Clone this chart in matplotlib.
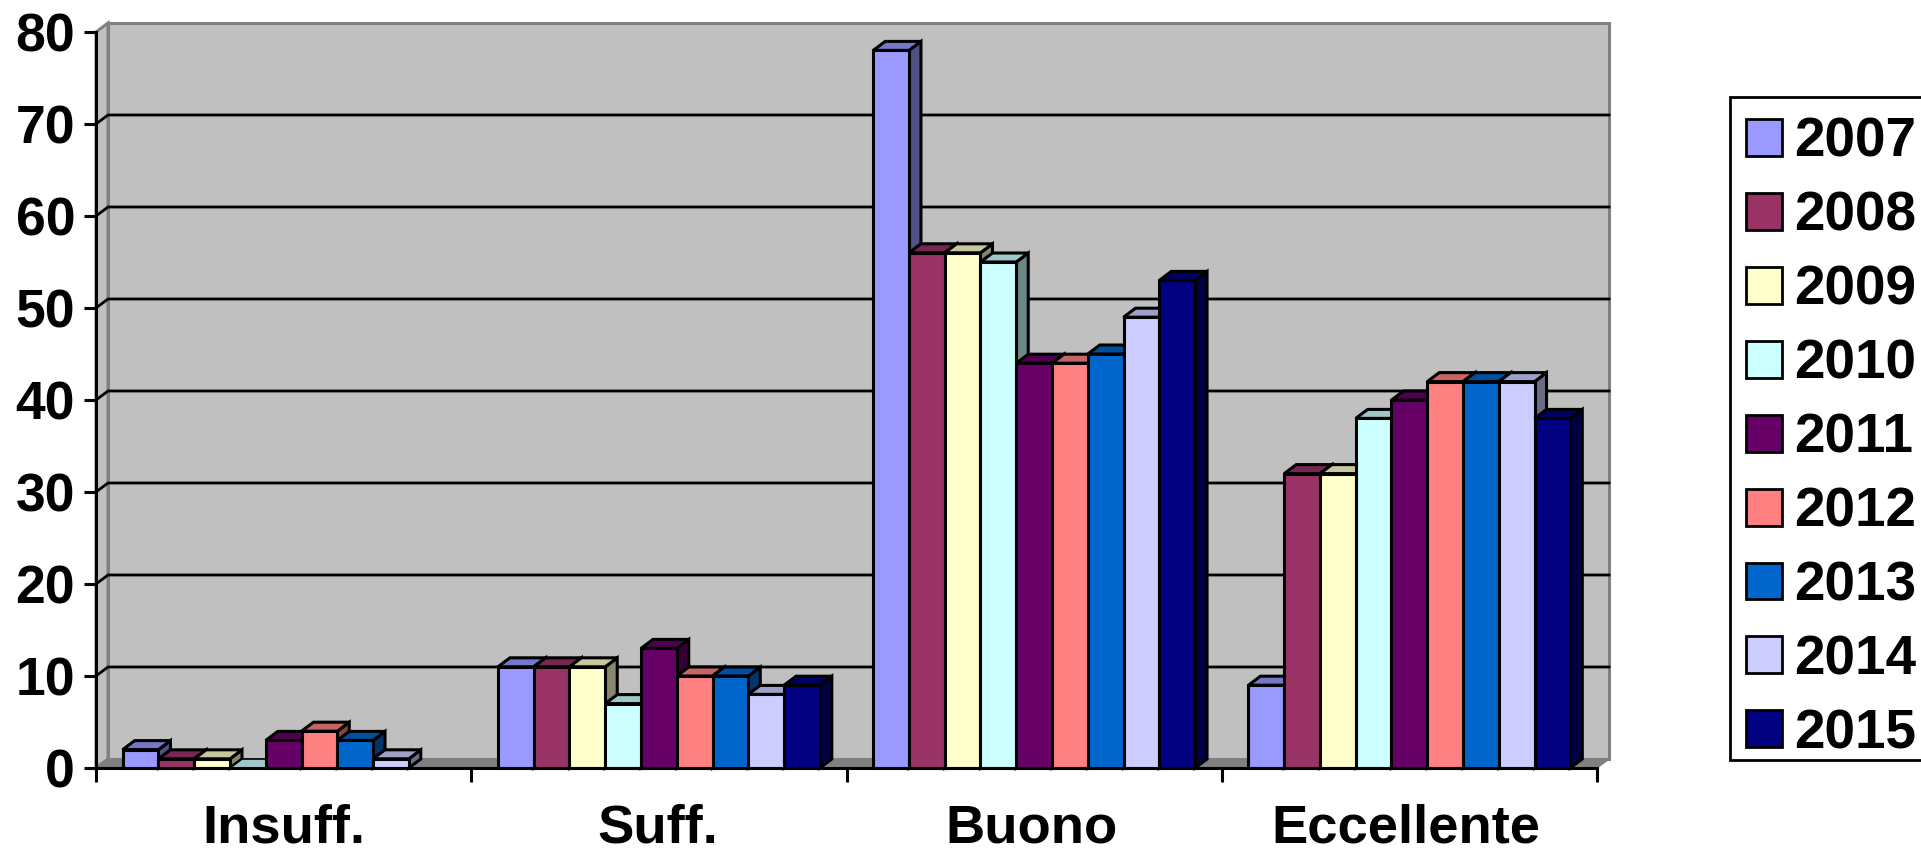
import numpy as np
import matplotlib
matplotlib.use("Agg")
import matplotlib.pyplot as plt
from matplotlib.patches import Polygon, Patch, Rectangle
from matplotlib.colors import to_rgb

plt.rcParams['font.family'] = ['Liberation Sans', 'DejaVu Sans']
plt.rcParams['font.weight'] = 'bold'

categories = ["Insuff.", "Suff.", "Buono", "Eccellente"]
years = ["2007", "2008", "2009", "2010", "2011", "2012", "2013", "2014", "2015"]
v2007 = [2, 11, 78, 9]
v2008 = [1, 11, 56, 32]
v2009 = [1, 11, 56, 32]
v2010 = [0, 7, 55, 38]
v2011 = [3, 13, 44, 40]
v2012 = [4, 10, 44, 42]
v2013 = [3, 10, 45, 42]
v2014 = [1, 8, 49, 42]
v2015 = [np.nan, 9, 53, 38]
series = [v2007, v2008, v2009, v2010, v2011, v2012, v2013, v2014, v2015]
colors = ["#9999FF", "#993366", "#FFFFCC", "#CCFFFF", "#660066",
          "#FF8080", "#0066CC", "#CCCCFF", "#000080"]

W, H = 1921, 848
L, R, T, B = 96, 1597, 32, 768
fig = plt.figure(figsize=(W / 100, H / 100), dpi=100, facecolor="white")
ax = fig.add_axes([L / W, 1 - B / H, (R - L) / W, (B - T) / H])
ax.set_xlim(0, 4)
ax.set_ylim(0, 80)
ax.set_facecolor("none")
for s in ("top", "right"):
    ax.spines[s].set_visible(False)
for s in ("left", "bottom"):
    ax.spines[s].set_linewidth(2.2)
    ax.spines[s].set_zorder(50)

# depth of the pseudo-3D projection, in data units
DX = 12 / ((R - L) / 4)
DY = 9 / ((B - T) / 80)
GRAY = "#808080"
WALL = "#C0C0C0"

# walls and floor
ax.add_patch(Polygon([(DX, DY), (4 + DX, DY), (4 + DX, 80 + DY), (DX, 80 + DY)],
                     fc=WALL, ec=GRAY, lw=2.2, zorder=1, clip_on=False))
ax.add_patch(Polygon([(0, 0), (DX, DY), (DX, 80 + DY), (0, 80)],
                     fc=WALL, ec=GRAY, lw=2.2, zorder=1, clip_on=False))
ax.add_patch(Polygon([(0, 0), (4, 0), (4 + DX, DY), (DX, DY)],
                     fc=GRAY, ec=GRAY, lw=1, zorder=1, clip_on=False))
yticks = np.arange(0, 90, 10)
for y in yticks[1:-1]:
    ax.plot([0, DX, 4 + DX], [y, y + DY, y + DY], color="black", lw=2.0,
            zorder=2, clip_on=False, solid_joinstyle="miter")


def shade(c, f):
    return tuple(np.array(to_rgb(c)) * f)


LW = 2.2
margin = 26.7 / ((R - L) / 4)
bw = (1 - 2 * margin) / len(series)
z = 3
for g in range(len(categories)):
    for i, (vals, c) in enumerate(zip(series, colors)):
        h = vals[g]
        if np.isnan(h):
            continue
        x0 = g + margin + i * bw
        if h == 0:
            ax.add_patch(Polygon([(x0, 0), (x0 + bw, 0), (x0 + bw + DX, DY), (x0 + DX, DY)],
                                 fc=shade(c, 0.78), ec="black", lw=1.2, zorder=z,
                                 clip_on=False, joinstyle="miter"))
            z += 1
            continue
        ax.add_patch(Polygon([(x0 + bw, 0), (x0 + bw + DX, DY), (x0 + bw + DX, h + DY), (x0 + bw, h)],
                             fc=shade(c, 0.53), ec="black", lw=LW, zorder=z,
                             clip_on=False, joinstyle="miter"))
        ax.add_patch(Polygon([(x0, h), (x0 + bw, h), (x0 + bw + DX, h + DY), (x0 + DX, h + DY)],
                             fc=shade(c, 0.78), ec="black", lw=LW, zorder=z,
                             clip_on=False, joinstyle="miter"))
        ax.bar(x0, h, width=bw, align="edge", color=c, edgecolor="black",
               linewidth=LW, zorder=z + 0.5, clip_on=False)
        z += 1

ax.set_yticks(yticks)
ax.set_yticklabels([str(y) for y in yticks], fontsize=38.5, fontweight="bold")
ax.tick_params(axis="y", length=9, width=2.2, pad=6)
ax.set_xticks(range(5))
ax.set_xticklabels([])
ax.set_xticks(np.arange(4) * 0.9967 + 0.5, minor=True)
ax.set_xticklabels(categories, minor=True, fontsize=39.2, fontweight="bold")
ax.tick_params(axis="x", which="major", length=10, width=2.2)
ax.tick_params(axis="x", which="minor", length=0, pad=25.4)

# legend frame runs off the right edge of the picture, as in the reference
fig.add_artist(Rectangle((1730 / W, 1 - 760 / H), 220 / W, 663 / H,
                         transform=fig.transFigure, fc="white", ec="black", lw=2))
handles = [Patch(fc=c, ec="black", lw=2) for c in colors]
leg = fig.legend(handles, years, loc="upper left",
                 bbox_to_anchor=(1746 / W, 1 - 116.6 / H), borderaxespad=0,
                 frameon=False, prop={"size": 39.5, "weight": "bold"},
                 handlelength=0.66, handleheight=0.66, handletextpad=0.22,
                 labelspacing=0.40, borderpad=0)

fig.savefig("out.png", dpi=100, facecolor="white")
